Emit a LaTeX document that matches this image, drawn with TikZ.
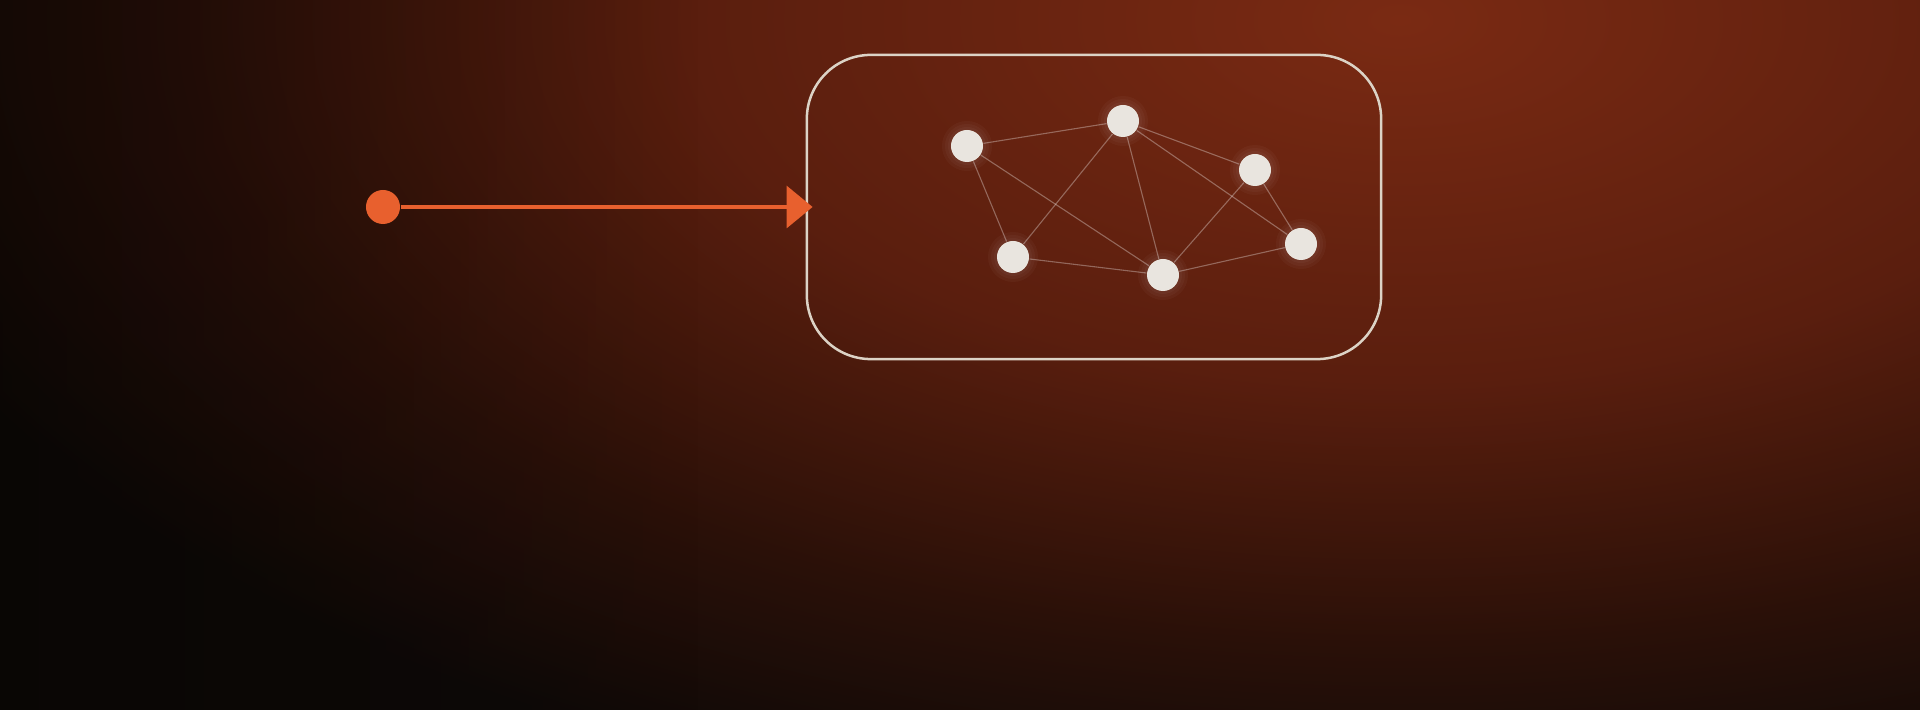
\documentclass[tikz,border=0pt]{standalone}
\usetikzlibrary{arrows.meta,fadings}
\definecolor{bgdark}{HTML}{0E0907}
\definecolor{glowa}{HTML}{7A2A13}
\definecolor{glowb}{HTML}{5A1E0E}
\definecolor{glowc}{HTML}{2A1008}
\definecolor{accent}{HTML}{E8602E}
\definecolor{nodefill}{HTML}{E9E5DC}
\definecolor{boxline}{HTML}{DCD3C6}
\pgfdeclareradialshading{bgglow}{\pgfpoint{0bp}{0bp}}{color(0bp)=(glowa); color(11bp)=(glowb); color(19bp)=(glowc); color(25bp)=(bgdark); color(50bp)=(bgdark)}
\begin{document}
\begin{tikzpicture}[x=0.01cm, y=-0.01cm,
  dot/.style={circle, fill=nodefill, inner sep=0pt, minimum size=0.32cm},
  link/.style={white, opacity=0.32, line width=0.011cm}]
\useasboundingbox (0,0) rectangle (1920,710);
% background glow
\fill[bgdark] (0,0) rectangle (1920,710);
\begin{scope}
\clip (0,0) rectangle (1920,710);
\shade[shading=bgglow] (1400,20) ellipse (1600 and 820);
\fill[black, path fading=east, fill opacity=0.3] (0,0) rectangle (700,710);
\end{scope}

\node[draw=boxline, line width=0.025cm, rounded corners=0.64cm, minimum width=5.74cm, minimum height=3.04cm, inner sep=0pt] (frame) at (1094,207) {};

% the graph
\node[dot] (n1) at (967,146) {};
\node[dot] (n2) at (1123,121) {};
\node[dot] (n3) at (1255,170) {};
\node[dot] (n4) at (1013,257) {};
\node[dot] (n5) at (1163,275) {};
\node[dot] (n6) at (1301,244) {};
\foreach \i in {1,...,6}
  \foreach \r in {0.19,0.22,0.25}
    \fill[white, opacity=0.03] (n\i) circle (\r cm);
\foreach \a/\b in {1/2,1/4,1/5,2/4,2/5,2/3,2/6,3/5,3/6,4/5,5/6}
  \draw[link] (n\a) -- (n\b);

% input arrow
\node[circle, fill=accent, inner sep=0pt, minimum size=0.34cm] (src) at (383,207) {};
\draw[accent, line width=0.033cm, -{Triangle[length=0.26cm, width=0.42cm]}] (src) -- ([xshift=0.07cm]frame.west);

\end{tikzpicture}
\end{document}
